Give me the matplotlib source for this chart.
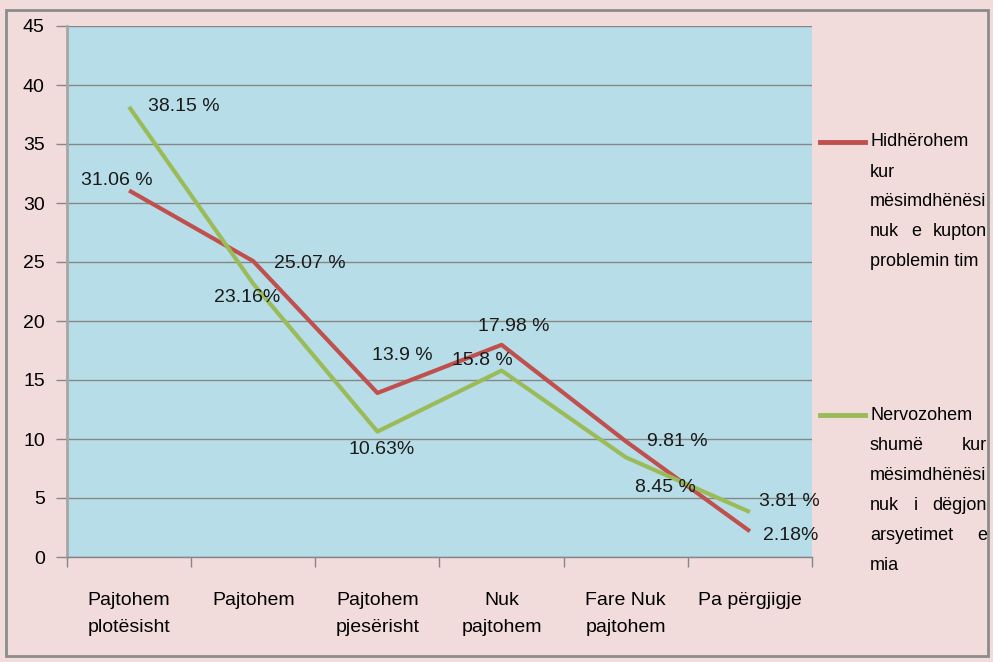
import matplotlib
matplotlib.use("Agg")
import matplotlib.pyplot as plt
from matplotlib.lines import Line2D
from matplotlib.patches import Rectangle

plt.rcParams['font.family'] = ['Liberation Sans', 'DejaVu Sans']
FS = 14      # ticks and data labels
FS_LEG = 13  # legend

categories = ["Pajtohem\nplotësisht", "Pajtohem", "Pajtohem\npjesërisht",
              "Nuk\npajtohem", "Fare Nuk\npajtohem", "Pa përgjigje"]
hidherohem = [31.06, 25.07, 13.9, 17.98, 9.81, 2.18]
nervozohem = [38.15, 23.16, 10.63, 15.8, 8.45, 3.81]
hid_labels = ["31.06 %", "25.07 %", "13.9 %", "17.98 %", "9.81 %", "2.18%"]
ner_labels = ["38.15 %", "23.16%", "10.63%", "15.8 %", "8.45 %", "3.81 %"]
legend_hid = ["Hidhërohem", "kur", "mësimdhënësi", "nuk e kupton", "problemin tim"]
legend_ner = ["Nervozohem", "shumë kur", "mësimdhënësi", "nuk i dëgjon", "arsyetimet e", "mia"]
# which legend lines are justified
just_hid = [False, False, False, True, False]
just_ner = [False, True, False, True, True, False]

# label offsets in pixels (dx, dy)
hid_off = [(-12, 10), (57, -2), (25, 37), (12, 18), (52, 0), (41, -4)]
ner_off = [(55, 0), (-6, -14), (4, -18), (-19, 10), (40, -30), (39, 11)]

RED = "#C0504D"
GREEN = "#9BBB59"
BG = "#F2DCDB"
PLOT_BG = "#B7DEE8"
GRID = "#868686"

W, H = 993, 662
fig = plt.figure(figsize=(W / 100, H / 100), dpi=100, facecolor=BG)
ax = fig.add_axes([67 / W, 1 - 557 / H, 745 / W, 531 / H])
ax.set_facecolor(PLOT_BG)

x = list(range(len(categories)))
ax.plot(x, hidherohem, color=RED, lw=3, solid_capstyle='butt', zorder=3)
ax.plot(x, nervozohem, color=GREEN, lw=3, solid_capstyle='butt', zorder=4)

for i in x:
    ax.annotate(hid_labels[i], (i, hidherohem[i]), xytext=hid_off[i],
                textcoords='offset pixels', ha='center', va='center',
                fontsize=FS, color='#1a1a1a', annotation_clip=False, zorder=5)
    ax.annotate(ner_labels[i], (i, nervozohem[i]), xytext=ner_off[i],
                textcoords='offset pixels', ha='center', va='center',
                fontsize=FS, color='#1a1a1a', annotation_clip=False, zorder=5)

ax.set_xlim(-0.5, len(categories) - 0.5)
ax.set_ylim(0, 45)
ax.set_yticks(range(0, 46, 5))
ax.yaxis.grid(True, color=GRID, lw=1)
ax.set_axisbelow(True)
ax.tick_params(axis='y', length=8, color=GRID, width=1, labelsize=FS, pad=8)

ax.set_xticks(x)
ax.set_xticklabels(categories, fontsize=FS, linespacing=1.8, va='top')
ax.tick_params(axis='x', which='major', length=0, pad=25)
ax.set_xticks([i - 0.5 for i in range(len(categories) + 1)], minor=True)
ax.tick_params(axis='x', which='minor', length=7, color=GRID, width=1)

for s in ['top', 'right']:
    ax.spines[s].set_visible(False)
ax.spines['left'].set_color('#A6A6A6')
ax.spines['left'].set_linewidth(2)
ax.spines['bottom'].set_color(GRID)
ax.spines['bottom'].set_linewidth(1)

# outer frame
fig.add_artist(Rectangle((6 / W, 1 - 656 / H), 982 / W, 646 / H, transform=fig.transFigure,
                         fill=False, edgecolor='#8C8C8C', lw=2))

# manual legend with justified text
fig.canvas.draw()
renderer = fig.canvas.get_renderer()
tx0, tx1 = 870, 987


def legend_block(lines, justify, y0, color):
    fig.add_artist(Line2D([820 / W, 865 / W], [1 - y0 / H, 1 - y0 / H],
                          transform=fig.transFigure, color=color, lw=3.5))
    for k, line in enumerate(lines):
        yy = 1 - (y0 + k * 30) / H
        words = line.split()
        if justify[k] and len(words) > 1:
            ts = [fig.text(0, yy, w, fontsize=FS_LEG, va='center', ha='left') for w in words]
            widths = [t.get_window_extent(renderer).width for t in ts]
            gap = max((tx1 - tx0 - sum(widths)) / (len(words) - 1), 3)
            pos = tx0
            for t, wd in zip(ts, widths):
                t.set_x(pos / W)
                pos += wd + gap
        else:
            fig.text(tx0 / W, yy, line, fontsize=FS_LEG, va='center', ha='left')


legend_block(legend_hid, just_hid, 142, RED)
legend_block(legend_ner, just_ner, 415, GREEN)

fig.savefig("out.png", dpi=100, facecolor=BG)
